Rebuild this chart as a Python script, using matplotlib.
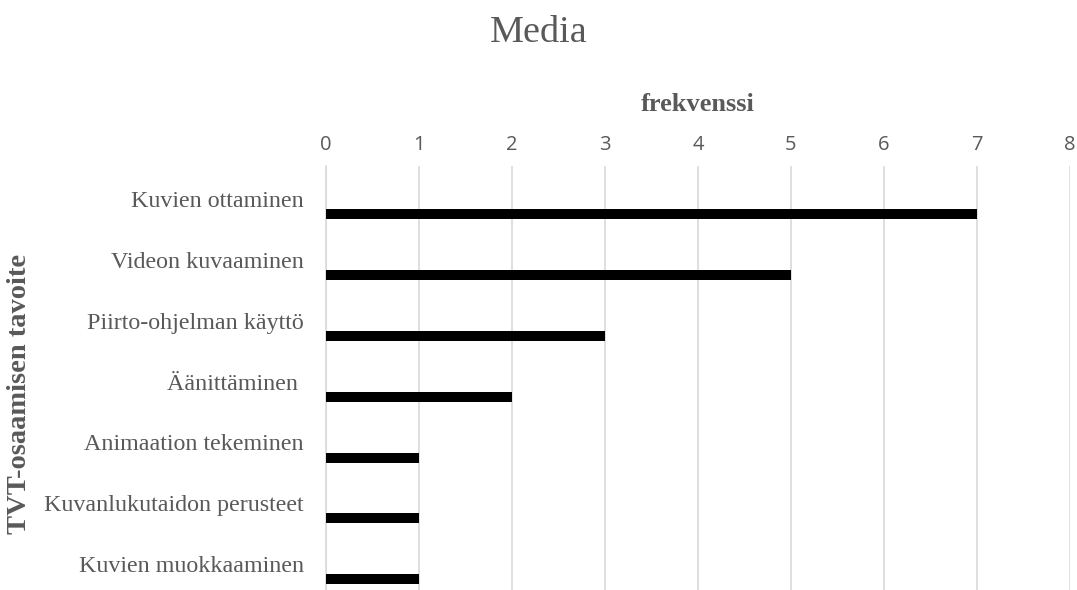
import matplotlib
matplotlib.use("Agg")
import matplotlib.pyplot as plt
from matplotlib.transforms import ScaledTranslation

categories = ["Kuvien ottaminen", "Videon kuvaaminen", "Piirto-ohjelman käyttö",
              "Äänittäminen ", "Animaation tekeminen", "Kuvanlukutaidon perusteet",
              "Kuvien muokkaaminen"]
values = [7, 5, 3, 2, 1, 1, 1]
xticks = [0, 1, 2, 3, 4, 5, 6, 7, 8]

serif = ["Liberation Serif", "DejaVu Serif"]
sans = ["Open Sans", "DejaVu Sans"]
gray = "#595959"

fig = plt.figure(figsize=(10.77, 5.90), dpi=100)
ax = fig.add_axes([326/1077, -1.5/590, (1070-326)/1077, (590-164)/590])

pos = list(range(len(categories)))
ax.barh([p + 0.3 for p in pos], values, height=0.165, color="black", zorder=3)

ax.set_xlim(0, 8)
ax.set_ylim(len(categories) - 0.5, -0.5)
ax.set_xticks(xticks)
ax.xaxis.tick_top()
ax.xaxis.set_label_position("top")
ax.tick_params(axis="x", length=0, pad=7.5, labelsize=14.5, labelcolor=gray)
for t in ax.get_xticklabels():
    t.set_family(sans)
ax.set_yticks(pos)
ax.set_yticklabels(categories, family=serif, fontsize=17.3, color=gray)
ax.tick_params(axis="y", length=0, pad=16)
shift = ScaledTranslation(0, -3/100, fig.dpi_scale_trans)
for t in ax.get_yticklabels():
    t.set_transform(t.get_transform() + shift)
ax.grid(axis="x", color="#d9d9d9", linewidth=1.2, zorder=0)
for s in ["top", "right", "bottom"]:
    ax.spines[s].set_visible(False)
ax.spines["left"].set_color("#d9d9d9")
ax.spines["left"].set_linewidth(1.2)

ax.set_xlabel("frekvenssi", family=serif, fontweight="bold", fontsize=19, color=gray, labelpad=17)
fig.text(20/1077, 1 - 394/590, "TVT-osaamisen tavoite", rotation=90, family=serif,
         fontweight="bold", fontsize=20.5, color=gray, ha="center", va="center")
fig.text(0.5, 1 - 42/590, "Media", family=serif, fontsize=27.5, color=gray, ha="center", va="baseline")

fig.savefig("out.png", dpi=100)
